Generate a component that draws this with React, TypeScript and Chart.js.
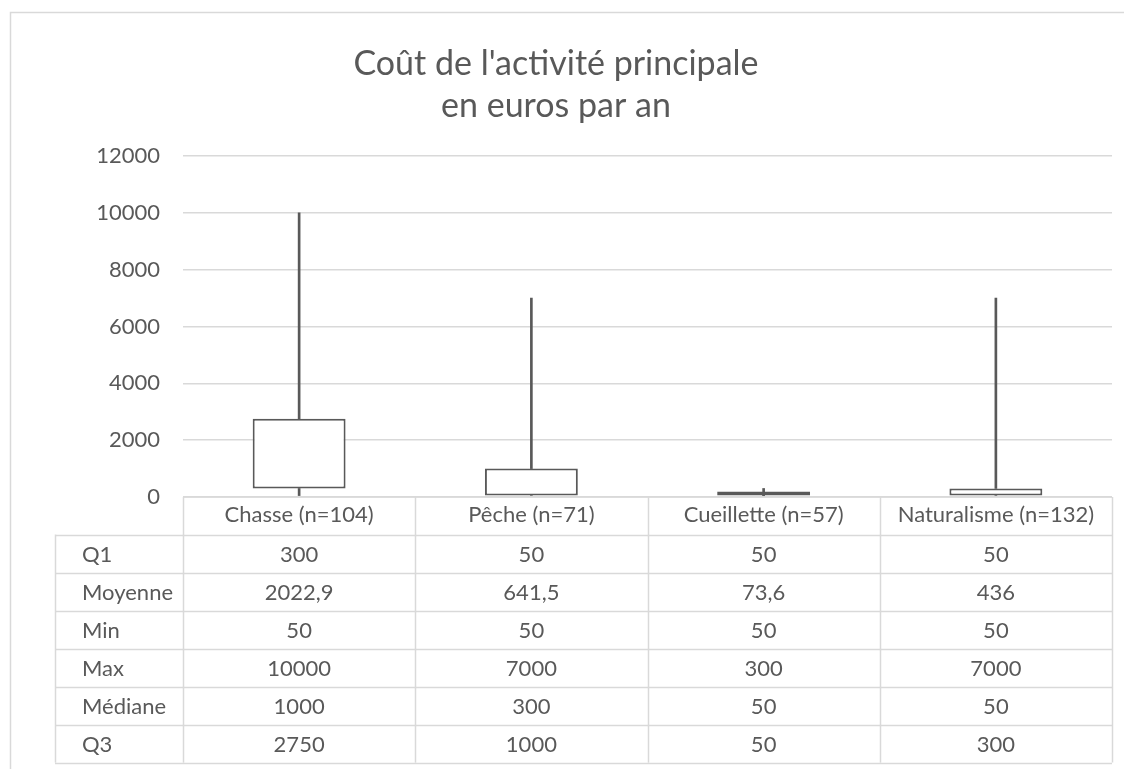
import React, { useEffect, useRef } from 'react';
import { Chart, registerables } from 'chart.js';

Chart.register(...registerables);

const titleLines = ["Coût de l'activité principale", 'en euros par an'];
const categories = ['Chasse (n=104)', 'Pêche (n=71)', 'Cueillette (n=57)', 'Naturalisme (n=132)'];
const q1Values = [300, 50, 50, 50];
const meanValues = [2022.9, 641.5, 73.6, 436];
const minValues = [50, 50, 50, 50];
const maxValues = [10000, 7000, 300, 7000];
const medianValues = [1000, 300, 50, 50];
const q3Values = [2750, 1000, 50, 300];
const rowLabels = ['Q1', 'Moyenne', 'Min', 'Max', 'Médiane', 'Q3'];
const yMin = 0;
const yMax = 12000;
const yStep = 2000;

const FONT = 'Lato';
const TEXT = '#595959';
const GRID = '#d9d9d9';
const BOX = '#595959';

const fmt = (v: number) => String(v).replace('.', ',');

const tableRows: number[][] = [q1Values, meanValues, minValues, maxValues, medianValues, q3Values];

const tablePlugin = {
  id: 'dataTable',
  afterDraw(chart: any) {
    const ctx = chart.ctx;
    const xs = chart.scales.x;
    const area = chart.chartArea;
    const n = categories.length;
    const colW = (area.right - area.left) / n;
    const headerH = 37.5;
    const rowH = 38;
    const labelLeft = 55;
    const top = area.bottom;
    const rowsTop = top + headerH;
    const bottom = rowsTop + rowH * rowLabels.length;

    ctx.save();
    ctx.strokeStyle = GRID;
    ctx.lineWidth = 1.5;
    ctx.strokeRect(10.5, 12.5, 1130, 780);

    ctx.beginPath();
    ctx.moveTo(area.left, top);
    ctx.lineTo(area.right, top);
    for (let r = 0; r <= rowLabels.length; r++) {
      const y = Math.round(rowsTop + r * rowH) + 0.5;
      ctx.moveTo(labelLeft, y);
      ctx.lineTo(area.right, y);
    }
    ctx.moveTo(labelLeft + 0.5, rowsTop);
    ctx.lineTo(labelLeft + 0.5, bottom);
    for (let i = 0; i <= n; i++) {
      const x = Math.round(area.left + i * colW) + 0.5;
      ctx.moveTo(x, top);
      ctx.lineTo(x, bottom);
    }
    ctx.stroke();

    ctx.fillStyle = TEXT;
    ctx.font = `22px ${FONT}`;
    ctx.textBaseline = 'middle';
    for (let r = 0; r < rowLabels.length; r++) {
      const yc = rowsTop + r * rowH + rowH / 2 + 1;
      ctx.textAlign = 'left';
      ctx.fillText(rowLabels[r], 82, yc);
      ctx.textAlign = 'center';
      for (let i = 0; i < n; i++) {
        ctx.fillText(fmt(tableRows[r][i]), xs.getPixelForValue(i), yc);
      }
    }
    ctx.restore();
  },
};

export default function App() {
  const ref = useRef<HTMLCanvasElement | null>(null);

  useEffect(() => {
    if (!ref.current) return;
    const chart = new Chart(ref.current, {
      type: 'bar',
      data: {
        labels: categories,
        datasets: [
          {
            label: 'lower',
            data: minValues.map((m, i) => [m, q1Values[i]]) as any,
            backgroundColor: BOX,
            borderWidth: 0,
            barThickness: 2,
            grouped: false,
            order: 2,
          },
          {
            label: 'upper',
            data: q3Values.map((q, i) => [q, maxValues[i]]) as any,
            backgroundColor: BOX,
            borderWidth: 0,
            barThickness: 2,
            grouped: false,
            order: 2,
          },
          {
            label: 'box',
            data: q1Values.map((q, i) => [q, q3Values[i]]) as any,
            backgroundColor: '#ffffff',
            borderColor: BOX,
            borderWidth: 2,
            borderSkipped: false,
            barPercentage: 0.4,
            categoryPercentage: 1,
            minBarLength: 4,
            grouped: false,
            order: 1,
          },
        ],
      },
      options: {
        animation: false,
        responsive: true,
        maintainAspectRatio: false,
        events: [],
        layout: { padding: { left: 0, right: 12, top: 0, bottom: 0 } },
        plugins: {
          legend: { display: false },
          tooltip: { enabled: false },
          title: {
            display: true,
            text: titleLines,
            color: TEXT,
            font: { family: FONT, size: 34, weight: 'normal', lineHeight: 1.235 },
            padding: { top: 43, bottom: 29 },
          },
        },
        scales: {
          x: {
            grid: { display: false },
            border: { display: false },
            ticks: {
              color: TEXT,
              font: { family: FONT, size: 22 },
              padding: -3,
              maxRotation: 0,
              autoSkip: false,
            },
            afterFit(scale: any) {
              scale.height = 272;
            },
          },
          y: {
            min: yMin,
            max: yMax,
            grid: { color: GRID, lineWidth: 1.5, drawTicks: false },
            border: { display: false },
            ticks: {
              stepSize: yStep,
              color: TEXT,
              font: { family: FONT, size: 22 },
              padding: 23,
              callback: (v: any) => String(v),
            },
            afterFit(scale: any) {
              scale.width = 183;
            },
          },
        },
      },
      plugins: [tablePlugin],
    });
    return () => chart.destroy();
  }, []);

  return (
    <div style={{ position: 'absolute', left: 0, top: 0, width: 1124, height: 769 }}>
      <canvas ref={ref} />
    </div>
  );
}
